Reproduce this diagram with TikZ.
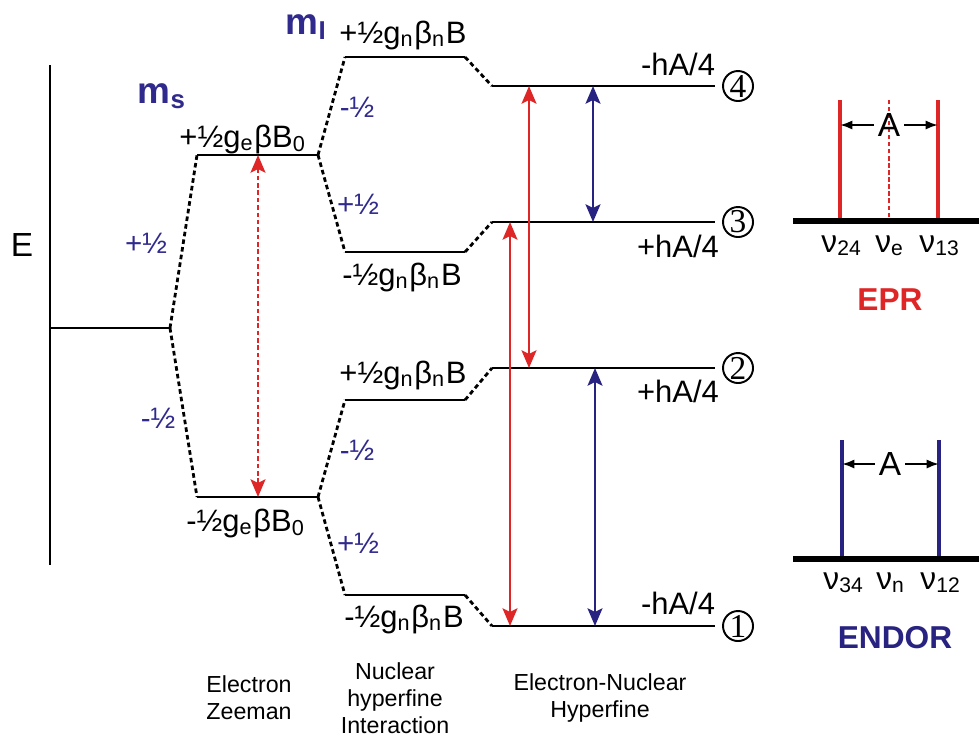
\documentclass[tikz,border=0pt]{standalone}
\usepackage{fontspec}
\setmainfont{Liberation Sans}
\newfontfamily\numfont{Liberation Serif}
\usetikzlibrary{arrows.meta,positioning}
\definecolor{eprred}{RGB}{222,38,38}
\definecolor{endorblue}{RGB}{40,34,128}
\definecolor{qblue}{RGB}{48,42,140}
\tikzset{
  lvl/.style={line width=0.8pt},
  link/.style={line width=0.8pt, dash pattern=on 1.3pt off 0.9pt},
  elbl/.style={font=\fontsize{8.8}{10}\selectfont, inner sep=0pt, anchor=base},
  qlbl/.style={font=\fontsize{8.4}{9}\selectfont, text=qblue, inner sep=0pt},
  qhead/.style={font=\fontsize{10.5}{11}\selectfont\bfseries, text=qblue, inner sep=0pt, anchor=base west},
  stlbl/.style={circle, draw, line width=0.55pt, minimum size=0.3cm, inner sep=0pt,
                font=\numfont\fontsize{9.5}{10}\selectfont},
  tip/.style={Stealth[length=5pt,width=4.2pt,inset=1pt]},
  redarr/.style={{Stealth[length=5pt,width=4.2pt,inset=1pt]}-{Stealth[length=5pt,width=4.2pt,inset=1pt]}, eprred, line width=0.8pt},
  bluearr/.style={{Stealth[length=5pt,width=4.2pt,inset=1pt]}-{Stealth[length=5pt,width=4.2pt,inset=1pt]}, endorblue, line width=0.8pt},
  aarr/.style={-{Latex[length=3.5pt,width=2.6pt]}, line width=0.6pt},
  specbase/.style={line width=1.7pt},
  nulbl/.style={font=\fontsize{9}{10}\selectfont, inner sep=0pt, anchor=base},
  speclbl/.style={font=\fontsize{9}{10}\selectfont\bfseries, inner sep=0pt},
  captxt/.style={font=\fontsize{6.6}{7.7}\selectfont, align=center, inner sep=0pt}
}

\begin{document}
\begin{tikzpicture}[x=0.01cm, y=-0.01cm]
  \useasboundingbox (0,0) rectangle (979,735);

  % energy axis
  \coordinate (Etop) at (50,65);
  \coordinate (Ebot) at (50,565);
  \coordinate (E0) at (50,328);
  \coordinate (b0) at (170,328);
  \node[font=\fontsize{9.5}{10}\selectfont] (Elbl) at (22,245) {E};
  \draw[lvl] (Etop) -- (Ebot);
  \draw[lvl] (E0) -- (b0);

  % electron Zeeman levels
  \coordinate (zu1) at (197,155); \coordinate (zu2) at (318,155);
  \coordinate (zd1) at (197,497); \coordinate (zd2) at (318,497);
  \draw[lvl] (zu1) -- (zu2);
  \draw[lvl] (zd1) -- (zd2);
  \draw[link] (b0) -- (zu1);
  \draw[link] (b0) -- (zd1);
  \node[elbl] (zulbl) at (243,147) {+½g\textsubscript{e}βB\textsubscript{0}};
  \node[elbl] (zdlbl) at (246,531) {-½g\textsubscript{e}βB\textsubscript{0}};
  \node[qhead] (ms) at (137,103) {m\textsubscript{s}};
  \node[qlbl] (msup) at (146,243) {+½};
  \node[qlbl] (msdn) at (158,418) {-½};
  \coordinate (xz) at (258,0);
  \draw[eprred, line width=0.8pt, dash pattern=on 1.3pt off 0.8pt,
        {Stealth[length=5pt,width=4.2pt,inset=1pt]}-{Stealth[length=5pt,width=4.2pt,inset=1pt]}] (xz |- zu1) -- (xz |- zd1);

  % nuclear hyperfine levels
  \coordinate (nA1) at (345,57);  \coordinate (nA2) at (465,57);
  \coordinate (nB1) at (345,252); \coordinate (nB2) at (465,252);
  \coordinate (nC1) at (345,400); \coordinate (nC2) at (465,400);
  \coordinate (nD1) at (345,595); \coordinate (nD2) at (465,595);
  \draw[lvl] (nA1) -- (nA2);
  \draw[lvl] (nB1) -- (nB2);
  \draw[lvl] (nC1) -- (nC2);
  \draw[lvl] (nD1) -- (nD2);
  \draw[link] (zu2) -- (nA1);
  \draw[link] (zu2) -- (nB1);
  \draw[link] (zd2) -- (nC1);
  \draw[link] (zd2) -- (nD1);
  \node[qhead] (mi) at (285,34) {m\textsubscript{I}};
  \node[elbl] (nAlbl) at (403,43) {+½g\textsubscript{n}β\textsubscript{n}B};
  \node[elbl] (nBlbl) at (402,285) {-½g\textsubscript{n}β\textsubscript{n}B};
  \node[elbl] (nClbl) at (403,383) {+½g\textsubscript{n}β\textsubscript{n}B};
  \node[elbl] (nDlbl) at (404,627) {-½g\textsubscript{n}β\textsubscript{n}B};
  \node[qlbl] (miA) at (357,107) {-½};
  \node[qlbl] (miB) at (358,204) {+½};
  \node[qlbl] (miC) at (357,450) {-½};
  \node[qlbl] (miD) at (358,543) {+½};

  % electron-nuclear hyperfine states
  \coordinate (s4a) at (492,86);  \coordinate (s4b) at (715,86);
  \coordinate (s3a) at (492,222); \coordinate (s3b) at (715,222);
  \coordinate (s2a) at (492,368); \coordinate (s2b) at (715,368);
  \coordinate (s1a) at (492,626); \coordinate (s1b) at (715,626);
  \draw[lvl] (s4a) -- (s4b);
  \draw[lvl] (s3a) -- (s3b);
  \draw[lvl] (s2a) -- (s2b);
  \draw[lvl] (s1a) -- (s1b);
  \draw[link] (nA2) -- (s4a);
  \draw[link] (nB2) -- (s3a);
  \draw[link] (nC2) -- (s2a);
  \draw[link] (nD2) -- (s1a);
  \node[stlbl, right=2pt of s4b] (st4) {4};
  \node[stlbl, right=2pt of s3b] (st3) {3};
  \node[stlbl, right=2pt of s2b] (st2) {2};
  \node[stlbl, right=2pt of s1b] (st1) {1};
  \node[elbl] (h4) at (678,75) {-hA/4};
  \node[elbl] (h3) at (678,257) {+hA/4};
  \node[elbl] (h2) at (678,402) {+hA/4};
  \node[elbl] (h1) at (678,614) {-hA/4};

  % transitions
  \coordinate (xr1) at (529,0);
  \coordinate (xr2) at (510,0);
  \coordinate (xb1) at (593,0);
  \coordinate (xb2) at (595,0);
  \draw[redarr] (xr1 |- s4a) -- (xr1 |- s2a);
  \draw[redarr] (xr2 |- s3a) -- (xr2 |- s1a);
  \draw[bluearr] (xb1 |- s4a) -- (xb1 |- s3a);
  \draw[bluearr] (xb2 |- s2a) -- (xb2 |- s1a);

  % EPR spectrum
  \coordinate (epL) at (793,221); \coordinate (epR) at (979,221);
  \coordinate (ep24) at (840,100); \coordinate (epe) at (889,100); \coordinate (ep13) at (938,100);
  \draw[eprred, line width=1.2pt] (ep24) -- (ep24 |- epL);
  \draw[eprred, line width=1.2pt] (ep13) -- (ep13 |- epL);
  \draw[eprred, line width=0.7pt, dash pattern=on 1.2pt off 0.8pt] (epe) -- (epe |- epL);
  \draw[specbase] (epL) -- (epR);
  \node[font=\fontsize{9.5}{10}\selectfont, inner sep=1pt] (epA) at (889,125) {A};
  \draw[aarr] (epA.west) -- (epA.west -| ep24);
  \draw[aarr] (epA.east) -- (epA.east -| ep13);
  \node[nulbl] (nu24) at (842,252) {ν\textsubscript{24}};
  \node[nulbl] (nue) at (890,252) {ν\textsubscript{e}};
  \node[nulbl] (nu13) at (940,252) {ν\textsubscript{13}};
  \node[speclbl, text=eprred] (epr) at (890,300) {EPR};

  % ENDOR spectrum
  \coordinate (enL) at (793,559); \coordinate (enR) at (979,559);
  \coordinate (en34) at (842,440); \coordinate (en12) at (939,440);
  \draw[endorblue, line width=1.2pt] (en34) -- (en34 |- enL);
  \draw[endorblue, line width=1.2pt] (en12) -- (en12 |- enL);
  \draw[specbase] (enL) -- (enR);
  \node[font=\fontsize{9.5}{10}\selectfont, inner sep=1pt] (enA) at (890,464) {A};
  \draw[aarr] (enA.west) -- (enA.west -| en34);
  \draw[aarr] (enA.east) -- (enA.east -| en12);
  \node[nulbl] (nu34) at (844,589) {ν\textsubscript{34}};
  \node[nulbl] (nun) at (891,589) {ν\textsubscript{n}};
  \node[nulbl] (nu12) at (941,589) {ν\textsubscript{12}};
  \node[speclbl, text=endorblue] (endor) at (895,638) {ENDOR};

  % captions
  \node[captxt] (capz) at (249,698) {Electron\\Zeeman};
  \node[captxt] (capn) at (395,698) {Nuclear\\hyperfine\\Interaction};
  \node[captxt] (cape) at (600,698) {Electron-Nuclear\\Hyperfine};
\end{tikzpicture}
\end{document}
